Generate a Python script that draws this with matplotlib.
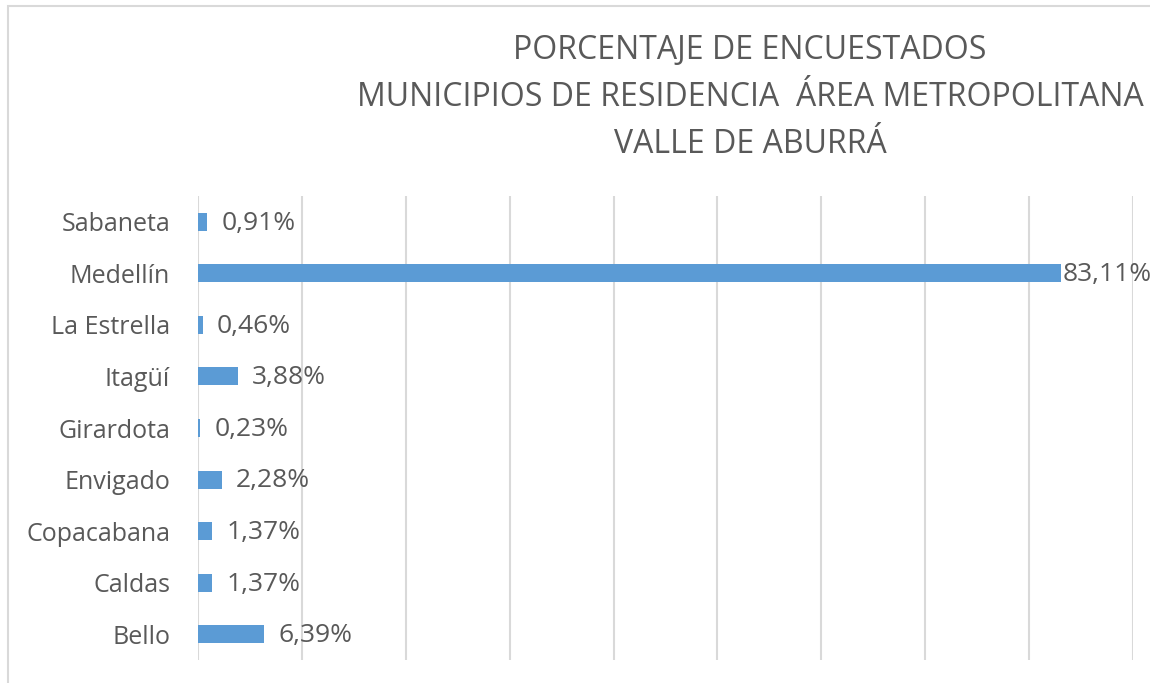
import matplotlib
matplotlib.use("Agg")
import matplotlib.pyplot as plt
from matplotlib.patches import Rectangle

# ===== datos =====
municipios = ["Bello", "Caldas", "Copacabana", "Envigado", "Girardota",
              "Itagüí", "La Estrella", "Medellín", "Sabaneta"]
porcentajes = [6.39, 1.37, 1.37, 2.28, 0.23, 3.88, 0.46, 83.11, 0.91]
etiquetas = ["6,39%", "1,37%", "1,37%", "2,28%", "0,23%",
             "3,88%", "0,46%", "83,11%", "0,91%"]
titulo = ["PORCENTAJE DE ENCUESTADOS",
          "MUNICIPIOS DE RESIDENCIA  ÁREA METROPOLITANA",
          "VALLE DE ABURRÁ"]

TEXTO = "#595959"
AZUL = "#5B9BD5"
GRIS = "#D9D9D9"

plt.rcParams["font.family"] = ["Open Sans", "DejaVu Sans"]

fig = plt.figure(figsize=(11.5, 6.83), dpi=100)
W, H = 1150, 683

# marco del grafico (recortado a la derecha y abajo)
fig.patches.append(Rectangle((8 / W, -0.5), 2, 0.5 + (H - 6) / H,
                             transform=fig.transFigure, fill=False,
                             edgecolor=GRIS, linewidth=1.5))

ax = fig.add_axes([198 / W, 23 / H, (1133 - 198) / W, 464 / H])
y = range(len(municipios))
ax.barh(y, porcentajes, height=0.35, color=AZUL, zorder=3)

# etiquetas de datos (la de Medellin va pegada a la barra)
for yi, v, t in zip(y, porcentajes, etiquetas):
    dx = 1.0 if v > 50 else 10
    ax.annotate(t, (v, yi), xytext=(dx, -1), textcoords="offset points",
                va="center", ha="left", fontsize=19, color=TEXTO, zorder=4)

ax.set_xlim(0, 90)
ax.set_ylim(-0.5, len(municipios) - 0.5)
ax.set_xticks(range(0, 91, 10))
ax.set_xticklabels([])
ax.set_yticks(list(y))
ax.set_yticklabels(municipios, fontsize=18, color=TEXTO)
ax.tick_params(length=0, axis="y", pad=20)
ax.tick_params(length=0, axis="x")
ax.grid(axis="x", color=GRIS, linewidth=1.5, zorder=0)
for s in ax.spines.values():
    s.set_visible(False)

# titulo en tres lineas
for i, linea in enumerate(titulo):
    fig.text(750 / W, 1 - (59 + i * 47) / H, linea, ha="center", va="baseline",
             fontsize=23, color=TEXTO)

fig.savefig("out.png", dpi=100)
